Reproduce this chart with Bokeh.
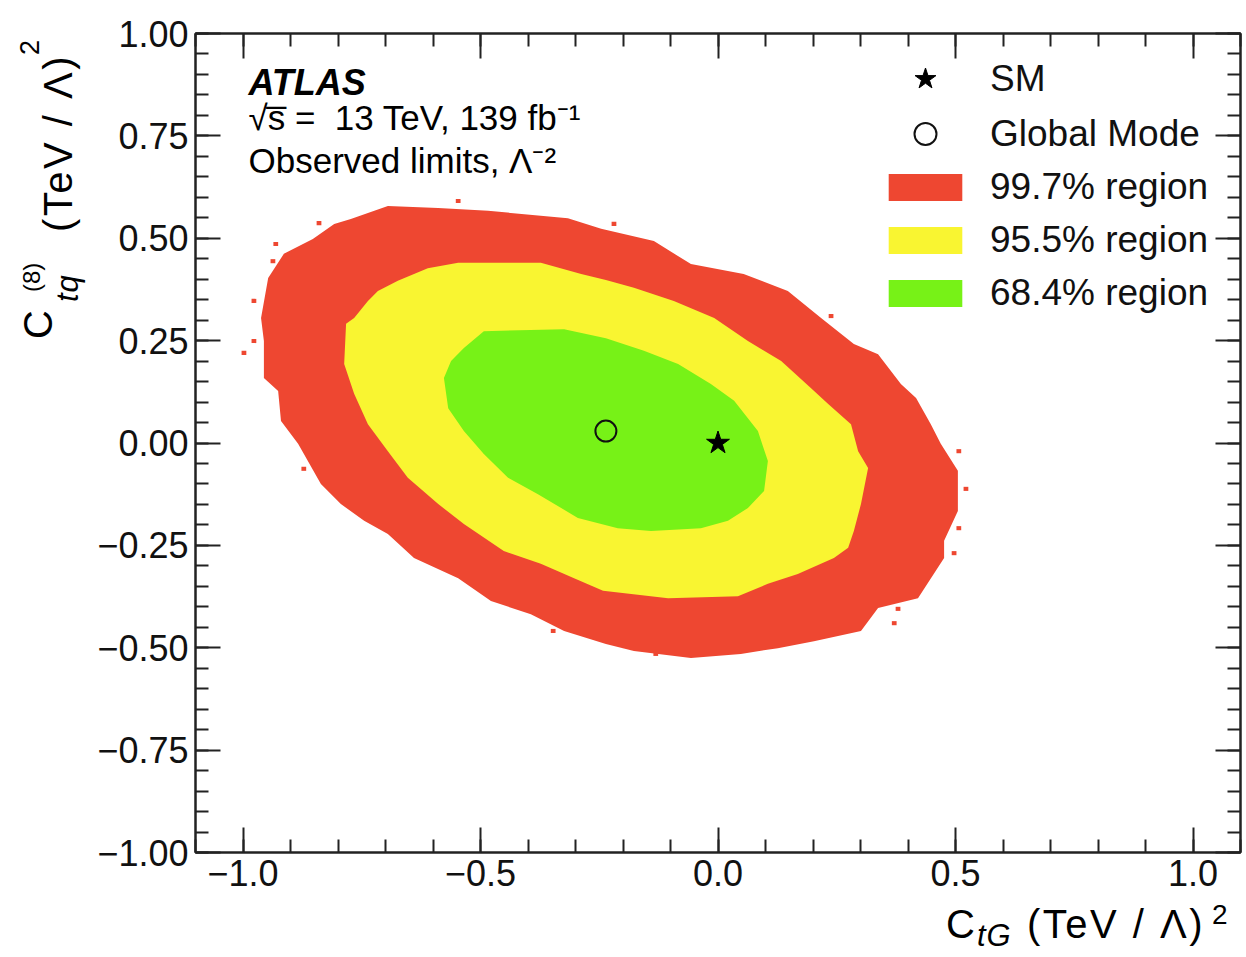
from bokeh.plotting import figure
from bokeh.layouts import row, column
from bokeh.models import (LinearAxis, FixedTicker, CustomJSTickFormatter, Label,
                          Legend, LegendItem, Range1d, Div)
from bokeh.embed import file_html
from bokeh.resources import INLINE

# ---------------- data ----------------
red_x = [-0.914, -0.853, -0.808, -0.773, -0.695, -0.589, -0.484, -0.316, -0.246, -0.135,
         -0.057, 0.054, 0.147, 0.217, 0.286, 0.337, 0.385, 0.417, 0.448, 0.469,
         0.505, 0.505, 0.476, 0.476, 0.421, 0.337, 0.301, 0.202, 0.126, 0.048,
         -0.057, -0.177, -0.236, -0.324, -0.394, -0.478, -0.547, -0.640, -0.695, -0.745,
         -0.794, -0.836, -0.884, -0.920, -0.926, -0.956, -0.956, -0.962, -0.947]
red_y = [0.462, 0.498, 0.535, 0.547, 0.579, 0.574, 0.567, 0.549, 0.523, 0.493,
         0.437, 0.413, 0.371, 0.305, 0.242, 0.217, 0.144, 0.110, 0.046, -0.002,
         -0.068, -0.166, -0.239, -0.281, -0.379, -0.403, -0.459, -0.484, -0.501, -0.515,
         -0.525, -0.508, -0.491, -0.459, -0.418, -0.386, -0.330, -0.281, -0.222, -0.190,
         -0.149, -0.100, -0.002, 0.054, 0.127, 0.159, 0.249, 0.305, 0.403]

yellow_x = [-0.766, -0.737, -0.716, -0.674, -0.611, -0.547, -0.373, -0.288, -0.236, -0.177,
            -0.093, -0.008, 0.063, 0.133, 0.196, 0.232, 0.280, 0.295, 0.316, 0.301,
            0.286, 0.274, 0.244, 0.168, 0.105, 0.042, -0.105, -0.242, -0.303, -0.373,
            -0.451, -0.535, -0.589, -0.653, -0.695, -0.737, -0.766, -0.787, -0.783]
yellow_y = [0.305, 0.347, 0.371, 0.396, 0.427, 0.440, 0.440, 0.413, 0.398, 0.379,
            0.347, 0.305, 0.249, 0.200, 0.134, 0.095, 0.046, -0.020, -0.061, -0.149,
            -0.215, -0.256, -0.281, -0.320, -0.344, -0.374, -0.379, -0.361, -0.330, -0.295,
            -0.264, -0.198, -0.149, -0.085, -0.020, 0.046, 0.120, 0.193, 0.291]

green_x = [-0.493, -0.324, -0.236, -0.156, -0.084, -0.015, 0.034, 0.084, 0.105, 0.097,
           0.063, 0.021, -0.036, -0.141, -0.211, -0.295, -0.379, -0.442, -0.493, -0.535,
           -0.568, -0.577, -0.562, -0.535]
green_y = [0.273, 0.278, 0.256, 0.225, 0.193, 0.144, 0.103, 0.029, -0.044, -0.117,
           -0.159, -0.190, -0.208, -0.215, -0.208, -0.183, -0.125, -0.085, -0.027, 0.029,
           0.085, 0.159, 0.200, 0.232]

# isolated 99.7% cells outside the main contour
red_cells_x = [-0.840, -0.931, -0.937, -0.977, -0.998, -0.977, -0.872, -0.547, -0.347,
               -0.219, 0.238, 0.507, 0.522, 0.507, 0.497, 0.371, 0.379, -0.131]
red_cells_y = [0.537, 0.486, 0.444, 0.347, 0.220, 0.249, -0.063, 0.591, -0.459,
               0.535, 0.310, -0.020, -0.112, -0.208, -0.269, -0.440, -0.405, -0.515]
cell_size = 0.01

sm_x, sm_y = [0.0], [0.0]
mode_x, mode_y = [-0.236], [0.029]

x_major = [-1.0, -0.5, 0.0, 0.5, 1.0]
x_minor = [round(-1.1 + 0.1 * i, 2) for i in range(23)]
y_major = [-1.0, -0.75, -0.5, -0.25, 0.0, 0.25, 0.5, 0.75, 1.0]
y_minor = [round(-1.0 + 0.05 * i, 2) for i in range(41)]

marker_labels = ["SM", "Global Mode"]
region_labels = ["99.7% region", "95.5% region", "68.4% region"]
RED, YELLOW, GREEN = "#ee4731", "#f9f531", "#77f217"
FONT = "Liberation Sans"

# ---------------- layout sizes ----------------
YDIV_W = 90
TOP_H = 904
P_W = 1246 - YDIV_W

# ---------------- figure ----------------
p = figure(width=P_W, height=TOP_H, x_range=Range1d(-1.1, 1.1), y_range=Range1d(-1.0, 1.0),
           output_backend="svg", toolbar_location=None,
           min_border_left=195 - YDIV_W, min_border_right=6, min_border_top=33,
           min_border_bottom=TOP_H - 852,
           x_axis_location=None, y_axis_location=None, margin=0)
p.grid.visible = False
p.outline_line_color = "#222222"
p.outline_line_width = 2
p.background_fill_color = "white"
p.border_fill_color = "white"

r_red = p.patch(red_x, red_y, fill_color=RED, line_color=None)
p.rect(red_cells_x, red_cells_y, width=cell_size, height=cell_size, fill_color=RED, line_color=None)
r_yel = p.patch(yellow_x, yellow_y, fill_color=YELLOW, line_color=None)
r_grn = p.patch(green_x, green_y, fill_color=GREEN, line_color=None)
r_sm = p.scatter(sm_x, sm_y, marker="star", size=24, fill_color="black", line_color="black")
r_mode = p.scatter(mode_x, mode_y, marker="circle", size=21, fill_color=None,
                   line_color="#111111", line_width=2)

fmt_x = CustomJSTickFormatter(code="""
const v = Math.abs(tick) < 1e-9 ? 0 : tick;
return (v < 0 ? "\u2212" : "") + Math.abs(v).toFixed(1);""")
fmt_y = CustomJSTickFormatter(code="""
const v = Math.abs(tick) < 1e-9 ? 0 : tick;
return (v < 0 ? "\u2212" : "") + Math.abs(v).toFixed(2);""")
fmt_none = CustomJSTickFormatter(code="return '';")

def style(ax, with_labels):
    ax.major_tick_in = 25
    ax.major_tick_out = 0
    ax.minor_tick_in = 13
    ax.minor_tick_out = 0
    ax.major_tick_line_color = "#222222"
    ax.minor_tick_line_color = "#222222"
    ax.major_tick_line_width = 2
    ax.minor_tick_line_width = 2
    ax.axis_line_color = "#222222"
    ax.axis_line_width = 2
    ax.major_label_text_font = FONT
    ax.major_label_text_font_size = "36px" if with_labels else "0px"
    ax.major_label_text_color = "#111111"
    ax.major_label_standoff = 7 if with_labels else 0

xb = LinearAxis(ticker=FixedTicker(ticks=x_major, minor_ticks=x_minor), formatter=fmt_x)
xt = LinearAxis(ticker=FixedTicker(ticks=x_major, minor_ticks=x_minor), formatter=fmt_none)
yl = LinearAxis(ticker=FixedTicker(ticks=y_major, minor_ticks=y_minor), formatter=fmt_y)
yr = LinearAxis(ticker=FixedTicker(ticks=y_major, minor_ticks=y_minor), formatter=fmt_none)
for ax, lab in ((xb, True), (xt, False), (yl, True), (yr, False)):
    style(ax, lab)
p.add_layout(xb, "below")
p.add_layout(xt, "above")
p.add_layout(yl, "left")
p.add_layout(yr, "right")

def px2x(px):
    return (px - 717.5) / 475.0

def py2y(py):
    return (442.5 - py) / 409.5

def add_label(text, px, py, size, style_="normal"):
    p.add_layout(Label(x=px2x(px), y=py2y(py), text=text, text_font=FONT,
                       text_font_size=f"{size}px", text_font_style=style_,
                       text_color="black", text_align="left", text_baseline="alphabetic"))

# ATLAS block
add_label("ATLAS", 248, 82, 36, "bold italic")
add_label("\u221As\u0305\u00A0= \u00A013 TeV, 139 fb\u207B\u00B9", 248, 117, 35)
add_label("Observed limits, \u039B\u207B\u00B2", 248, 160, 35)

# legends: markers and regions (separate so marker size / box size match)
leg_common = dict(border_line_color=None, background_fill_alpha=0, label_text_font=FONT,
                  label_text_font_size="37px", label_text_color="#111111",
                  glyph_width=92, label_standoff=19, padding=0, margin=0)
leg_m = Legend(items=[LegendItem(label=marker_labels[0], renderers=[r_sm]),
                      LegendItem(label=marker_labels[1], renderers=[r_mode])],
               location=(684, 691), glyph_height=55, label_height=27, spacing=0, **leg_common)
leg_r = Legend(items=[LegendItem(label=region_labels[0], renderers=[r_red]),
                      LegendItem(label=region_labels[1], renderers=[r_yel]),
                      LegendItem(label=region_labels[2], renderers=[r_grn])],
               location=(684, 538), glyph_height=34, label_height=27, spacing=11, **leg_common)
p.add_layout(leg_m)
p.add_layout(leg_r)

# ---------------- axis titles as HTML text ----------------
ASC = 0.8465  # baseline offset (fraction of font size) for line-height 1

def piece(text, baseline, start, size, italic=False, rotated=False, ox=0, oy=0, ls=0):
    st = (f"position:absolute;white-space:nowrap;line-height:1;margin:0;padding:0;"
          f"font-family:'{FONT}';font-size:{size}px;color:#000;letter-spacing:{ls}px;")
    if italic:
        st += "font-style:italic;"
    if rotated:
        left = baseline - ASC * size - ox
        top = start - oy
        st += "transform:rotate(-90deg);transform-origin:0 0;"
    else:
        left = start - ox
        top = baseline - ASC * size - oy
    st += f"left:{left:.1f}px;top:{top:.1f}px;"
    return f'<div style="{st}">{text}</div>'

# y-axis title: C_{tq}^{(8)} (TeV / Lambda)^2, rotated
y_html = ('<div style="position:relative;width:%dpx;height:%dpx;overflow:visible;">' % (YDIV_W, TOP_H)
          + piece("C", 52, 339, 40, rotated=True)
          + piece("tq", 78, 302, 31, italic=True, rotated=True, ls=1)
          + piece("(8)", 40, 292, 24, rotated=True)
          + piece("(TeV / \u039B)", 72, 232, 40, rotated=True, ls=2.5)
          + piece("2", 40, 55, 27, rotated=True)
          + "</div>")
ydiv = Div(text=y_html, width=YDIV_W, height=TOP_H, margin=0)

# x-axis title: C_{tG} (TeV / Lambda)^2
x_html = ('<div style="position:relative;width:1246px;height:%dpx;overflow:visible;">' % (957 - TOP_H)
          + piece("C", 938, 946, 40, oy=TOP_H)
          + piece("tG", 946, 977, 31, italic=True, oy=TOP_H, ls=1)
          + piece("(TeV / \u039B)", 938, 1027, 40, oy=TOP_H, ls=2.5)
          + piece("2", 925, 1212, 28, oy=TOP_H)
          + "</div>")
xdiv = Div(text=x_html, width=1246, height=957 - TOP_H, margin=0)

layout = column(row(ydiv, p, spacing=0, margin=0), xdiv, spacing=0, margin=0)

open("out.html", "w").write(file_html(layout, INLINE))
